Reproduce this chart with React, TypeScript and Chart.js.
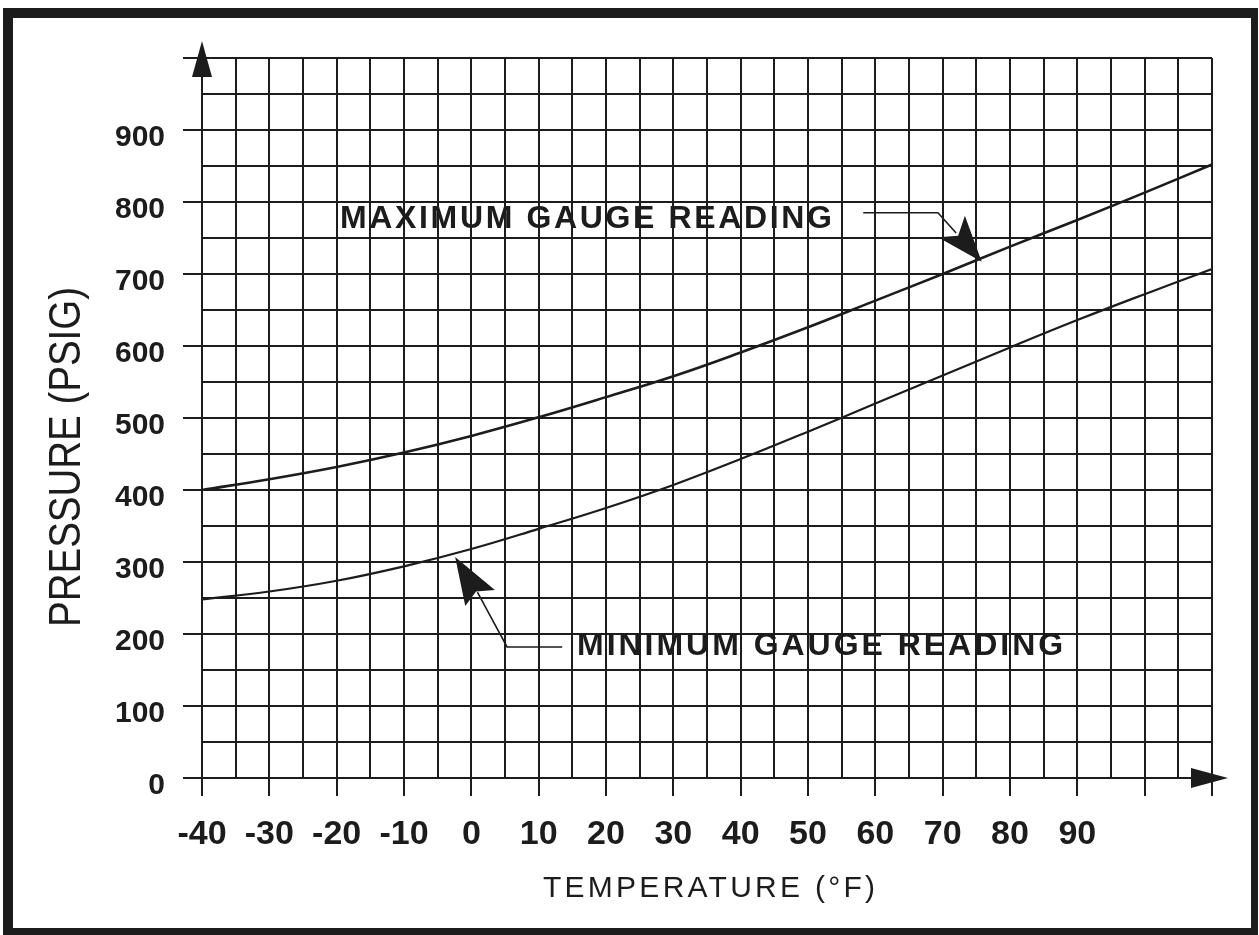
import React, { useEffect, useRef } from 'react';
import { Chart, registerables } from 'chart.js';

Chart.register(...registerables);

// ---------- data ----------
const temperatures = [-40, -30, -20, -10, 0, 10, 20, 30, 40, 50, 60, 70, 80, 90, 100, 110];
const maxGaugeReading = [400, 415, 432, 452, 475, 501, 529, 558, 591, 626, 663, 700, 738, 775, 813, 852];
const minGaugeReading = [248, 259, 274, 294, 318, 346, 375, 407, 443, 481, 520, 559, 598, 636, 672, 707];

const xTickLabels = ['-40', '-30', '-20', '-10', '0', '10', '20', '30', '40', '50', '60', '70', '80', '90'];
const yTickLabels = ['0', '100', '200', '300', '400', '500', '600', '700', '800', '900'];

const X_MIN = -40;
const X_MAX = 110;
const X_STEP = 5;
const Y_MIN = 0;
const Y_MAX = 1000;
const Y_STEP = 50;

const xTitle = 'TEMPERATURE (°F)';
const yTitle = 'PRESSURE (PSIG)';
const maxLabel = 'MAXIMUM GAUGE READING';
const minLabel = 'MINIMUM GAUGE READING';

// annotation anchor points in data units (°F, psig)
const maxLabelAt = [-19.5, 764];
const maxLeader = [[58.2, 785], [69.3, 785], [72.0, 757]];
const maxArrow = { tip: [75.8, 717], a: [73.3, 781], b: [69.3, 751], notch: [72.3, 753] };
const minLabelAt = [15.7, 171];
const minLeader = [[13.5, 182], [5.3, 182], [0.9, 258]];
const minArrow = { tip: [-2.4, 307], a: [3.5, 261], b: [-0.9, 239], notch: [0.7, 259] };

const INK = '#1c1c1c';
const FONT = '"Liberation Sans", Arial, Helvetica, sans-serif';

function drawFitted(ctx: CanvasRenderingContext2D, text: string, left: number, baseline: number, font: string, width: number) {
  ctx.save();
  ctx.font = font;
  ctx.textAlign = 'left';
  ctx.textBaseline = 'alphabetic';
  const anyCtx = ctx as any;
  const hasLS = 'letterSpacing' in anyCtx;
  if (hasLS) anyCtx.letterSpacing = '0px';
  const w0 = ctx.measureText(text).width;
  if (hasLS) {
    const ls = (width - w0) / (text.length - 1);
    anyCtx.letterSpacing = ls.toFixed(2) + 'px';
    ctx.fillText(text, left, baseline);
  } else {
    ctx.translate(left, baseline);
    ctx.scale(width / w0, 1);
    ctx.fillText(text, 0, 0);
  }
  ctx.restore();
}

const decorPlugin = {
  id: 'decor',
  beforeDraw(chart: any) {
    const ctx = chart.ctx as CanvasRenderingContext2D;
    ctx.save();
    ctx.fillStyle = '#ffffff';
    ctx.fillRect(0, 0, chart.width, chart.height);
    ctx.restore();
  },
  afterDraw(chart: any) {
    const ctx = chart.ctx as CanvasRenderingContext2D;
    const a = chart.chartArea;
    const xs = chart.scales.x;
    const ys = chart.scales.y;
    const px = (p: number[]) => [xs.getPixelForValue(p[0]), ys.getPixelForValue(p[1])];
    ctx.save();
    ctx.fillStyle = INK;
    ctx.strokeStyle = INK;

    // frame
    ctx.fillRect(3, 8, 1255, 10);
    ctx.fillRect(3, 8, 10, 927);
    ctx.fillRect(1251, 8, 7, 927);
    ctx.fillRect(3, 928, 1255, 7);

    // y axis arrow
    ctx.lineWidth = 2;
    ctx.beginPath();
    ctx.moveTo(a.left, a.top);
    ctx.lineTo(a.left, a.top - 12);
    ctx.stroke();
    ctx.beginPath();
    ctx.moveTo(a.left, a.top - 17);
    ctx.lineTo(a.left - 10, a.top + 19);
    ctx.lineTo(a.left + 10, a.top + 19);
    ctx.closePath();
    ctx.fill();

    // x axis arrow
    ctx.beginPath();
    ctx.moveTo(a.right + 16, a.bottom);
    ctx.lineTo(a.right - 21, a.bottom - 10);
    ctx.lineTo(a.right - 21, a.bottom + 10);
    ctx.closePath();
    ctx.fill();

    // axis titles
    drawFitted(ctx, xTitle, (a.left + a.right) / 2 - 164, a.bottom + 119, `normal 30px ${FONT}`, 332);

    ctx.save();
    ctx.font = `normal 44px ${FONT}`;
    ctx.textAlign = 'center';
    ctx.textBaseline = 'alphabetic';
    const wy = ctx.measureText(yTitle).width;
    ctx.translate(a.left - 122, a.top + 399);
    ctx.rotate(-Math.PI / 2);
    ctx.scale(340 / wy, 1);
    ctx.fillText(yTitle, 0, 0);
    ctx.restore();

    // annotation labels
    const ml = px(maxLabelAt);
    drawFitted(ctx, maxLabel, ml[0], ml[1], `bold 32px ${FONT}`, 492);
    const nl = px(minLabelAt);
    drawFitted(ctx, minLabel, nl[0], nl[1], `bold 32px ${FONT}`, 486);

    // leaders
    ctx.lineWidth = 1.6;
    for (const pts of [maxLeader, minLeader]) {
      ctx.beginPath();
      pts.forEach((p, i) => {
        const q = px(p);
        if (i === 0) ctx.moveTo(q[0], q[1]);
        else ctx.lineTo(q[0], q[1]);
      });
      ctx.stroke();
    }
    // arrowheads
    for (const ar of [maxArrow, minArrow]) {
      const t = px(ar.tip), p1 = px(ar.a), n = px(ar.notch), p2 = px(ar.b);
      ctx.beginPath();
      ctx.moveTo(t[0], t[1]);
      ctx.lineTo(p1[0], p1[1]);
      ctx.lineTo(n[0], n[1]);
      ctx.lineTo(p2[0], p2[1]);
      ctx.closePath();
      ctx.fill();
    }
    ctx.restore();
  },
};

export default function App() {
  const canvasRef = useRef<HTMLCanvasElement | null>(null);

  useEffect(() => {
    const canvas = canvasRef.current;
    if (!canvas) return;
    const chart = new Chart(canvas, {
      type: 'line',
      data: {
        datasets: [
          {
            label: 'Maximum gauge reading',
            data: temperatures.map((t, i) => ({ x: t, y: maxGaugeReading[i] })),
            borderColor: INK,
            borderWidth: 2.6,
            pointRadius: 0,
            fill: false,
            tension: 0.4,
          },
          {
            label: 'Minimum gauge reading',
            data: temperatures.map((t, i) => ({ x: t, y: minGaugeReading[i] })),
            borderColor: INK,
            borderWidth: 2.2,
            pointRadius: 0,
            fill: false,
            tension: 0.4,
          },
        ],
      },
      options: {
        responsive: false,
        animation: false,
        devicePixelRatio: 1,
        events: [],
        layout: { padding: { top: 58, right: 47, bottom: 0, left: 0 } },
        plugins: {
          legend: { display: false },
          tooltip: { enabled: false },
          title: { display: false },
        },
        scales: {
          x: {
            type: 'linear',
            min: X_MIN,
            max: X_MAX,
            ticks: {
              stepSize: X_STEP,
              autoSkip: false,
              maxTicksLimit: 200,
              maxRotation: 0,
              minRotation: 0,
              padding: 18,
              color: INK,
              font: { family: FONT, size: 34, weight: 'bold' },
              callback: (v: any) => (xTickLabels.includes(String(v)) ? String(v) : ''),
            },
            grid: {
              color: INK,
              lineWidth: 2,
              tickLength: 18,
              tickWidth: 2,
              tickColor: (c: any) => (c.tick && Math.abs(c.tick.value % 10) < 1e-9 ? INK : 'rgba(0,0,0,0)'),
            },
            border: { color: INK, width: 2 },
            afterFit: (s: any) => {
              s.height = 157;
            },
          },
          y: {
            type: 'linear',
            min: Y_MIN,
            max: Y_MAX,
            ticks: {
              stepSize: Y_STEP,
              autoSkip: false,
              maxTicksLimit: 200,
              padding: 18,
              labelOffset: 8,
              color: INK,
              font: { family: FONT, size: 30, weight: 'bold' },
              callback: (v: any) => (yTickLabels.includes(String(v)) ? String(v) : ''),
            },
            grid: {
              color: INK,
              lineWidth: 2,
              tickLength: 19,
              tickWidth: 2,
              tickColor: (c: any) => (c.tick && Math.abs(c.tick.value % 100) < 1e-9 ? INK : 'rgba(0,0,0,0)'),
            },
            border: { color: INK, width: 2 },
            afterFit: (s: any) => {
              s.width = 202;
            },
          },
        },
      } as any,
      plugins: [decorPlugin],
    });
    return () => chart.destroy();
  }, []);

  return (
    <div style={{ position: 'absolute', left: 0, top: 0, width: 1259, height: 935, background: '#fff' }}>
      <canvas ref={canvasRef} width={1259} height={935} style={{ display: 'block' }} />
    </div>
  );
}
